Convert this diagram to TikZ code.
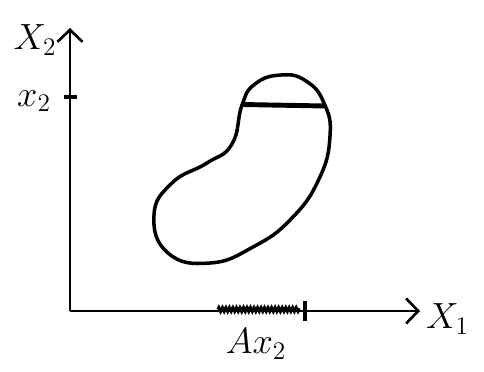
\documentclass[tikz,border=0pt]{standalone}
\usepackage{amsmath,amssymb}
\usetikzlibrary{arrows.meta,decorations.pathmorphing}
\tikzset{>={Straight Barb[length=2.4mm,width=5mm]},every node/.style={font=\huge},axis/.style={line width=1.5pt,->},edge/.style={line width=2pt,line join=round},chord/.style={line width=2.8pt}}

\begin{document}
\begin{tikzpicture}
\useasboundingbox (-1.4,-1.2) rectangle (8.28,6.22);
\coordinate (O) at (0,0);\coordinate (xend) at (7,0);\coordinate (yend) at (0,5.66);
\draw[axis] (O)--(yend);\draw[axis] (O)--(xend);
\node (Xtwo) at (-0.7,5.42){$X_2$};\node (Xone) at (7.55,-0.16){$X_1$};
% tick for x_2 on the vertical axis
\coordinate (tl) at (-0.13,4.28);\coordinate (tr) at (0.13,4.28);\draw[edge] (tl)--(tr);
\node (xtwo) at (-0.72,4.2){$x_2$};
% the set and its section
\draw[edge] plot[smooth cycle,tension=0.8] coordinates{(3.44,4.12)(3.24,3.34)(2.74,2.96)(2.04,2.56)(1.68,1.92)(1.96,1.16)(2.80,0.96)(3.66,1.28)(4.42,1.84)(4.98,2.64)(5.20,3.50)(5.08,4.16)(4.72,4.60)(4.22,4.72)(3.70,4.54)};
\coordinate (cl) at (3.44,4.13);\coordinate (cr) at (5.09,4.10);\draw[chord] (cl)--(cr);
% projection on the X_1 axis
\coordinate (pl) at (2.96,0.03);\coordinate (pr) at (4.6,0.03);
\draw[line width=1.8pt,decorate,decoration={zigzag,segment length=2pt,amplitude=1pt}] (pl)--(pr);
\coordinate (tb) at (4.7,-0.2);\coordinate (tt) at (4.7,0.2);\draw[edge] (tb)--(tt);
\node (Ax) at (3.72,-0.66){$Ax_2$};
\end{tikzpicture}
\end{document}
